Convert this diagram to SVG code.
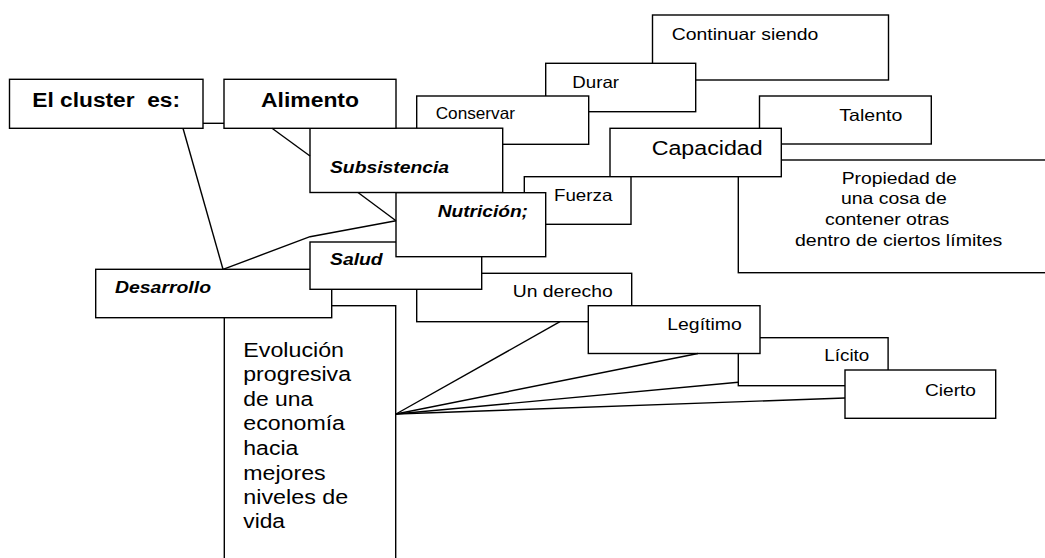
<svg xmlns="http://www.w3.org/2000/svg" width="1045" height="558" viewBox="0 0 1045 558">
<style>
rect{fill:#fff;stroke:#000;stroke-width:1.4}
text{font-family:"Liberation Sans",Arial,sans-serif;fill:#000}
.t{font-size:20px;font-weight:bold}
.bi{font-size:17px;font-weight:bold;font-style:italic}
.n{font-size:16.5px}
.l{font-size:20px}
.c line,.c polyline{stroke:#000;stroke-width:1.4;fill:none}
</style>
<rect x="0" y="0" width="1045" height="558" style="fill:#fff;stroke:none"/>
<g id="continuar"><rect x="652.5" y="15" width="236" height="65"/><text class="n" x="671.7" y="40" textLength="146.7" lengthAdjust="spacingAndGlyphs">Continuar siendo</text></g>
<g id="durar"><rect x="545.7" y="63.3" width="150" height="48.4"/><text class="n" x="572.3" y="87.7" textLength="46.7" lengthAdjust="spacingAndGlyphs">Durar</text></g>
<g id="conservar"><rect x="416.7" y="96" width="172" height="48.3"/><text class="n" x="435.7" y="119" textLength="79.3" lengthAdjust="spacingAndGlyphs">Conservar</text></g>
<g id="subsistencia"><rect x="310" y="128.2" width="192.7" height="64.3"/><text class="bi" x="330" y="172.5" textLength="119" lengthAdjust="spacingAndGlyphs">Subsistencia</text></g>
<g id="alimento"><rect x="224" y="79.3" width="172" height="49"/><text class="t" x="261" y="106.7" textLength="98" lengthAdjust="spacingAndGlyphs">Alimento</text></g>
<g id="cluster"><rect x="9.5" y="79.3" width="193.5" height="49"/><text class="t" x="32.3" y="106.7" textLength="147.7" lengthAdjust="spacingAndGlyphs" style="white-space:pre">El cluster  es:</text></g>
<g id="talento"><rect x="759.5" y="96" width="171.8" height="48"/><text class="n" x="839.3" y="121" textLength="63" lengthAdjust="spacingAndGlyphs">Talento</text></g>
<g id="propiedad"><rect x="738.3" y="160" width="320" height="112.7"/>
<text class="n" x="841.7" y="183.5" textLength="115" lengthAdjust="spacingAndGlyphs">Propiedad de</text>
<text class="n" x="841" y="204" textLength="105.7" lengthAdjust="spacingAndGlyphs">una cosa de</text>
<text class="n" x="825" y="225" textLength="124.3" lengthAdjust="spacingAndGlyphs">contener otras</text>
<text class="n" x="795" y="245.5" textLength="207.3" lengthAdjust="spacingAndGlyphs">dentro de ciertos límites</text></g>
<g id="capacidad"><rect x="610" y="128.3" width="171.3" height="48.4"/><text class="l" x="651.7" y="155" textLength="111" lengthAdjust="spacingAndGlyphs">Capacidad</text></g>
<g id="fuerza"><rect x="524.3" y="176.7" width="106.7" height="47.6"/><text class="n" x="554" y="201" textLength="58.3" lengthAdjust="spacingAndGlyphs">Fuerza</text></g>
<g id="evolucion"><rect x="224.3" y="305.7" width="171.4" height="270"/>
<text class="l" x="243.3" y="356.7" textLength="100.7" lengthAdjust="spacingAndGlyphs">Evolución</text>
<text class="l" x="243.3" y="381" textLength="107.7" lengthAdjust="spacingAndGlyphs">progresiva</text>
<text class="l" x="243.3" y="406" textLength="70" lengthAdjust="spacingAndGlyphs">de una</text>
<text class="l" x="243.3" y="430" textLength="101.7" lengthAdjust="spacingAndGlyphs">economía</text>
<text class="l" x="243.3" y="455" textLength="55" lengthAdjust="spacingAndGlyphs">hacia</text>
<text class="l" x="243.3" y="480" textLength="82.3" lengthAdjust="spacingAndGlyphs">mejores</text>
<text class="l" x="243.3" y="504" textLength="105" lengthAdjust="spacingAndGlyphs">niveles de</text>
<text class="l" x="243.3" y="528" textLength="41.7" lengthAdjust="spacingAndGlyphs">vida</text></g>
<g id="desarrollo"><rect x="95.7" y="269.3" width="236" height="48.4"/><text class="bi" x="115" y="292.5" textLength="96" lengthAdjust="spacingAndGlyphs">Desarrollo</text></g>
<g id="derecho"><rect x="416.7" y="273.3" width="215" height="48.4"/><text class="n" x="512.7" y="296.7" textLength="100" lengthAdjust="spacingAndGlyphs">Un derecho</text></g>
<g id="salud"><rect x="310" y="242" width="171.7" height="47.3"/><text class="bi" x="330" y="264.5" textLength="52.7" lengthAdjust="spacingAndGlyphs">Salud</text></g>
<g id="nutricion"><rect x="396" y="192.7" width="149.7" height="64"/><text class="bi" x="437.7" y="216.5" textLength="90.3" lengthAdjust="spacingAndGlyphs">Nutrición;</text></g>
<g id="licito"><rect x="738.3" y="337.7" width="149.8" height="48"/><text class="n" x="824.3" y="361" textLength="45" lengthAdjust="spacingAndGlyphs">Lícito</text></g>
<g id="legitimo"><rect x="588.3" y="305.7" width="171.7" height="47.8"/><text class="n" x="667.3" y="330" textLength="74.4" lengthAdjust="spacingAndGlyphs">Legítimo</text></g>
<g id="cierto"><rect x="845" y="370" width="150.7" height="48.3"/><text class="n" x="925" y="395.7" textLength="51" lengthAdjust="spacingAndGlyphs">Cierto</text></g>
<g id="connectors" class="c">
<line x1="203" y1="123.3" x2="224" y2="123.3"/>
<line x1="272" y1="128.3" x2="310" y2="156"/>
<line x1="183" y1="128.3" x2="223" y2="269.3"/>
<line x1="358" y1="192.5" x2="396" y2="220.7"/>
<polyline points="223,269.3 310,236.7 396,220.7"/>
<line x1="396" y1="414" x2="560" y2="321.7"/>
<line x1="396" y1="414" x2="698" y2="353.5"/>
<line x1="396" y1="414" x2="738.3" y2="382.3"/>
<line x1="396" y1="414" x2="845" y2="398"/>
</g>
</svg>
